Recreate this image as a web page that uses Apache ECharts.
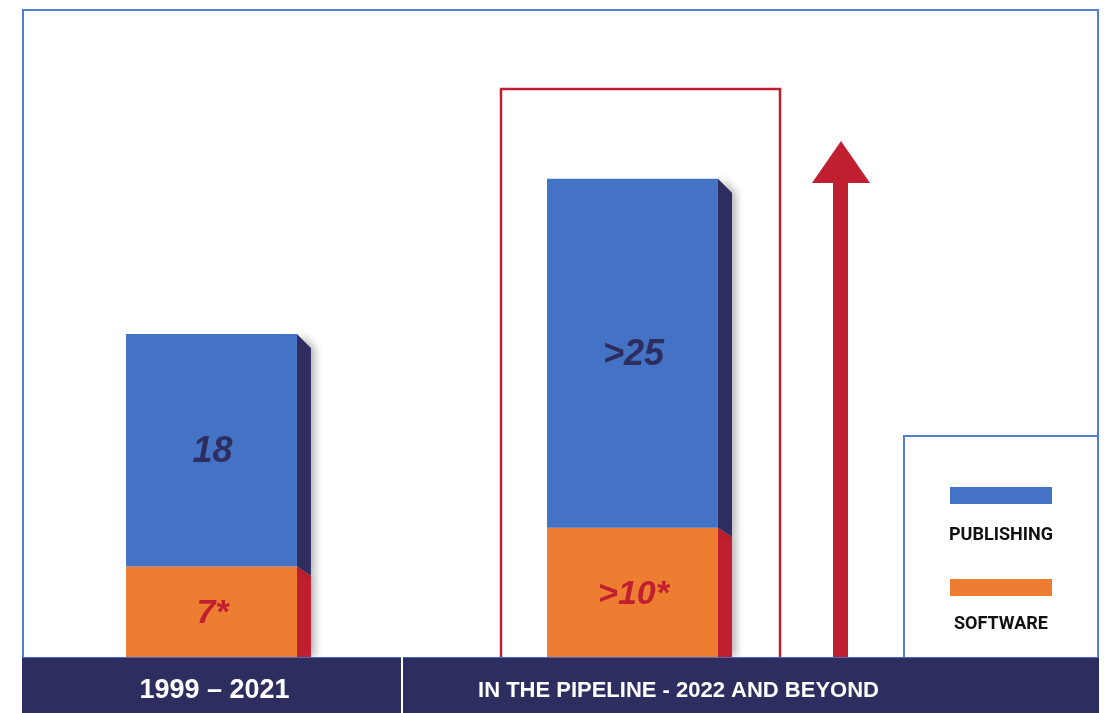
<!DOCTYPE html>
<html>
<head>
<meta charset="utf-8">
<style>
  html, body { margin: 0; padding: 0; background: #fff; }
  #main { width: 1107px; height: 713px; }
</style>
<script src="https://cdn.jsdelivr.net/npm/echarts@6/dist/echarts.min.js"></script>
</head>
<body>
<div id="main"></div>
<script>
// periods on the x axis
var periods = ["1999 – 2021", "IN THE PIPELINE - 2022 AND BEYOND"];
// bar heights (second period is drawn a bit above its ">25" label)
var software = [7, 10];
var publishing = [18, 27];
// labels printed on the bars
var softwareLabels = ["7*", ">10*"];
var publishingLabels = ["18", ">25"];

var BLUE = "#4472c4";
var ORANGE = "#ed7d31";
var NAVY = "#2d2d60";
var RED = "#c01f2f";
var FRAME = "#4f7fcf";

var chart = echarts.init(document.getElementById("main"));

// stack data: [category, from, to]
var softwareData = software.map(function (v, i) { return [i, 0, v]; });
var publishingData = publishing.map(function (v, i) { return [i, software[i], software[i] + v]; });

function makeRender(frontColor, sideColor, textColor, labels, topSlant, bottomSlant, fontSize) {
  return function (params, api) {
    var i = api.value(0);
    var lo = api.coord([i, api.value(1)]);
    var hi = api.coord([i, api.value(2)]);
    var w = api.size([1, 0])[0] * 0.406;
    var d = 14;
    var x0 = lo[0] - w / 2;
    var x1 = x0 + w;
    var yTop = hi[1];
    var yBot = lo[1];
    return {
      type: "group",
      children: [
        {
          type: "polygon",
          shape: {
            points: [
              [x1, yTop], [x1 + d, yTop + topSlant],
              [x1 + d, yBot + bottomSlant], [x1, yBot]
            ]
          },
          style: {
            fill: sideColor,
            shadowColor: "rgba(0,0,0,0.3)",
            shadowBlur: 8,
            shadowOffsetX: 4
          }
        },
        {
          type: "rect",
          shape: { x: x0, y: yTop, width: w, height: yBot - yTop },
          style: { fill: frontColor }
        },
        {
          type: "text",
          x: lo[0] + 1,
          y: (yTop + yBot) / 2 + 2,
          style: {
            text: labels[params.dataIndex],
            fill: textColor,
            font: "italic bold " + fontSize + "px 'Liberation Sans', Arial, sans-serif",
            align: "center",
            verticalAlign: "middle"
          }
        }
      ]
    };
  };
}

var option = {
  animation: false,
  grid: { left: 1, width: 842, top: 140, bottom: 56 },
  xAxis: {
    type: "category",
    data: periods,
    z: 10,
    axisLine: { show: false },
    axisTick: { show: false },
    axisLabel: {
      margin: 19,
      interval: 0,
      formatter: function (v, i) {
        return i === 0 ? "{a|" + v + "}" : "{b|" + v + "}";
      },
      rich: {
        a: {
          color: "#fff",
          fontFamily: "'Liberation Sans', Arial, sans-serif",
          fontWeight: "bold",
          fontSize: 27,
          lineHeight: 30,
          padding: [0, 0, 0, 6]
        },
        b: {
          color: "#fff",
          fontFamily: "'Liberation Sans', Arial, sans-serif",
          fontWeight: "bold",
          fontSize: 22,
          lineHeight: 30,
          padding: [0, 0, 0, 92]
        }
      }
    }
  },
  yAxis: {
    type: "value",
    min: 0,
    max: 40,
    show: false,
    splitLine: { show: false }
  },
  series: [
    {
      name: "SOFTWARE",
      type: "custom",
      z: 3,
      renderItem: makeRender(ORANGE, RED, RED, softwareLabels, 9, 0, 34),
      encode: { x: 0, y: [1, 2] },
      data: softwareData
    },
    {
      name: "PUBLISHING",
      type: "custom",
      z: 3,
      renderItem: makeRender(BLUE, NAVY, NAVY, publishingLabels, 14, 9, 36),
      encode: { x: 0, y: [1, 2] },
      data: publishingData
    }
  ],
  graphic: [
    // outer frame
    {
      type: "rect", z: 0,
      shape: { x: 23, y: 10, width: 1075, height: 660 },
      style: { fill: "none", stroke: FRAME, lineWidth: 2 }
    },
    // red box round the pipeline bar
    {
      type: "rect", z: 1,
      shape: { x: 501, y: 89, width: 279, height: 580 },
      style: { fill: "none", stroke: RED, lineWidth: 2.5 }
    },
    // growth arrow
    {
      type: "rect", z: 1,
      shape: { x: 833, y: 180, width: 15, height: 490 },
      style: { fill: RED }
    },
    {
      type: "polygon", z: 1,
      shape: { points: [[841, 141], [870, 183], [812, 183]] },
      style: { fill: RED }
    },
    // legend box
    {
      type: "rect", z: 1,
      shape: { x: 904, y: 436, width: 194, height: 232 },
      style: { fill: "#fff", stroke: FRAME, lineWidth: 2 }
    },
    {
      type: "rect", z: 2,
      shape: { x: 950, y: 487, width: 102, height: 17 },
      style: { fill: BLUE }
    },
    {
      type: "text", z: 2, x: 1001, y: 535,
      style: {
        text: "PUBLISHING", fill: "#111",
        font: "bold 18px Roboto, sans-serif",
        align: "center", verticalAlign: "middle"
      }
    },
    {
      type: "rect", z: 2,
      shape: { x: 950, y: 579, width: 102, height: 17 },
      style: { fill: ORANGE }
    },
    {
      type: "text", z: 2, x: 1001, y: 624,
      style: {
        text: "SOFTWARE", fill: "#111",
        font: "bold 18px Roboto, sans-serif",
        align: "center", verticalAlign: "middle"
      }
    },
    // bottom band
    {
      type: "rect", z: 5,
      shape: { x: 22, y: 657, width: 1077, height: 56 },
      style: { fill: NAVY }
    },
    {
      type: "rect", z: 5,
      shape: { x: 22, y: 657, width: 1077, height: 1 },
      style: { fill: "#4a6cc0" }
    },
    {
      type: "rect", z: 6,
      shape: { x: 401, y: 657, width: 2, height: 56 },
      style: { fill: "#fff" }
    }
  ]
};

chart.setOption(option);
</script>
</body>
</html>
